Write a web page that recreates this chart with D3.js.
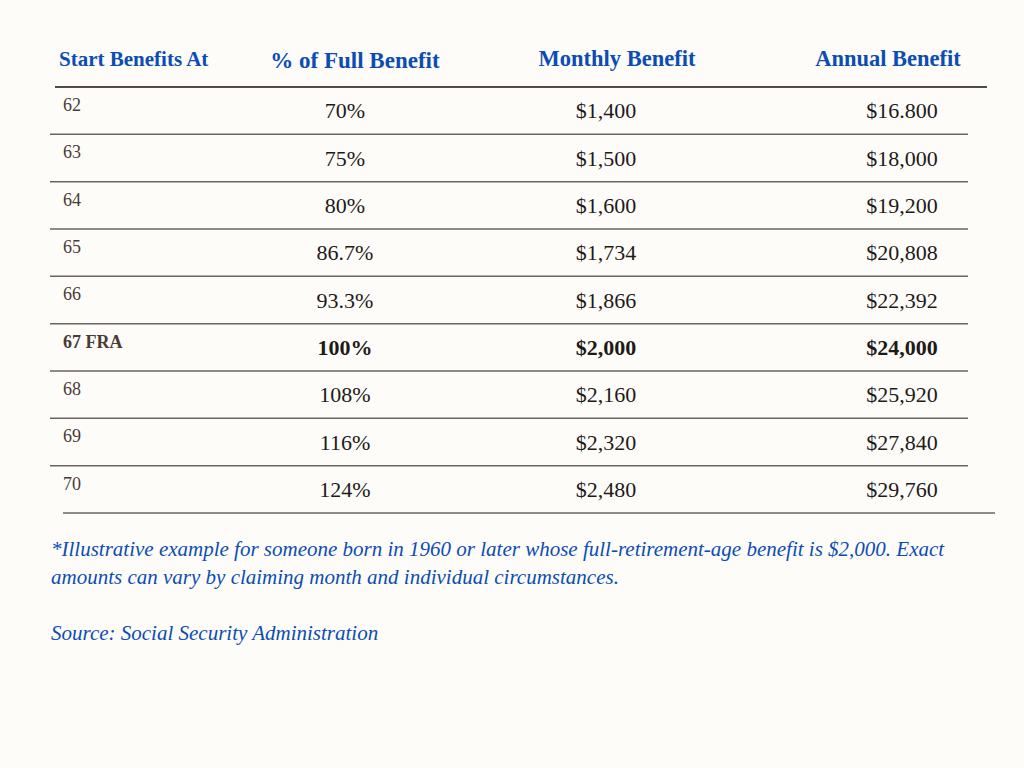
<!DOCTYPE html>
<html>
<head>
<meta charset="utf-8">
<script src="https://cdn.jsdelivr.net/npm/d3@7"></script>
<style>
  html, body { margin: 0; padding: 0; background: #fdfcf9; }
  svg { display: block; }
</style>
</head>
<body>
<div id="chart"></div>
<script>
// table data
const headers = ["Start Benefits At", "% of Full Benefit", "Monthly Benefit", "Annual Benefit"];
const startAges = ["62", "63", "64", "65", "66", "67 FRA", "68", "69", "70"];
const pctOfFull = ["70%", "75%", "80%", "86.7%", "93.3%", "100%", "108%", "116%", "124%"];
const monthly = ["$1,400", "$1,500", "$1,600", "$1,734", "$1,866", "$2,000", "$2,160", "$2,320", "$2,480"];
const annual = ["$16.800", "$18,000", "$19,200", "$20,808", "$22,392", "$24,000", "$25,920", "$27,840", "$29,760"];
const boldRow = "67 FRA";
const notes = [
  "*Illustrative example for someone born in 1960 or later whose full-retirement-age benefit is $2,000. Exact",
  "amounts can vary by claiming month and individual circumstances."
];
const source = "Source: Social Security Administration";

const width = 1024, height = 768;
const blue = "#0b4db3";

const svg = d3.select("#chart")
  .append("svg")
    .attr("width", width)
    .attr("height", height);

svg.append("rect")
  .attr("width", width)
  .attr("height", height)
  .attr("fill", "#fdfcf9");

// rows
const y = d3.scaleBand()
  .domain(startAges)
  .range([87, 513]);

// column anchors
const cols = ["age", "pct", "monthly", "annual"];
const x = d3.scaleOrdinal()
  .domain(cols)
  .range([63, 345, 606, 902]);
const headX = d3.scaleOrdinal()
  .domain(cols)
  .range([59, 355, 617, 888]);
const headSize = [21, 23, 22.5, 22.5];

const rows = startAges.map((a, i) => ({age: a, pct: pctOfFull[i], monthly: monthly[i], annual: annual[i]}));

// headers
svg.append("g")
  .selectAll("text")
  .data(headers)
  .join("text")
    .attr("x", (d, i) => headX(cols[i]))
    .attr("y", (d, i) => i == 1 ? 68 : 66)
    .attr("text-anchor", (d, i) => i == 0 ? "start" : "middle")
    .attr("fill", blue)
    .attr("font-family", "'Liberation Serif', serif")
    .attr("font-weight", "bold")
    .attr("font-size", (d, i) => headSize[i])
    .text(d => d);

// header rule
svg.append("line")
  .attr("x1", 55).attr("x2", 987)
  .attr("y1", y.range()[0]).attr("y2", y.range()[0])
  .attr("stroke", "#544a45")
  .attr("stroke-width", 2.2);

// row rules
svg.append("g")
  .selectAll("line")
  .data(startAges)
  .join("line")
    .attr("x1", (d, i) => i == startAges.length - 1 ? 63 : 50)
    .attr("x2", (d, i) => i == startAges.length - 1 ? 995 : 968)
    .attr("y1", d => y(d) + y.bandwidth())
    .attr("y2", d => y(d) + y.bandwidth())
    .attr("stroke", "#6d6460")
    .attr("stroke-width", 1.5);

// cells
const rowG = svg.append("g")
  .selectAll("g")
  .data(rows)
  .join("g")
    .attr("transform", d => `translate(0, ${y(d.age) + y.bandwidth() / 2})`);

rowG.append("text")
  .attr("x", x("age"))
  .attr("y", -6)
  .attr("dy", "0.35em")
  .attr("fill", "#4a3b35")
  .attr("font-family", "'Liberation Serif', serif")
  .attr("font-weight", d => d.age == boldRow ? "bold" : "normal")
  .attr("font-size", 18)
  .text(d => d.age);

["pct", "monthly", "annual"].forEach(function(c) {
  rowG.append("text")
    .attr("x", x(c))
    .attr("y", 0)
    .attr("dy", "0.35em")
    .attr("text-anchor", "middle")
    .attr("fill", "#1e1a18")
    .attr("font-family", "'Liberation Serif', serif")
    .attr("font-weight", d => d.age == boldRow ? "bold" : "normal")
    .attr("font-size", 22)
    .text(d => d[c]);
});

// footnote
svg.append("g")
  .selectAll("text")
  .data(notes.concat(["", source]))
  .join("text")
    .attr("x", 51)
    .attr("y", (d, i) => 556 + i * 28)
    .attr("fill", blue)
    .attr("font-family", "'Liberation Serif', serif")
    .attr("font-style", "italic")
    .attr("font-size", 21)
    .text(d => d);
</script>
</body>
</html>
